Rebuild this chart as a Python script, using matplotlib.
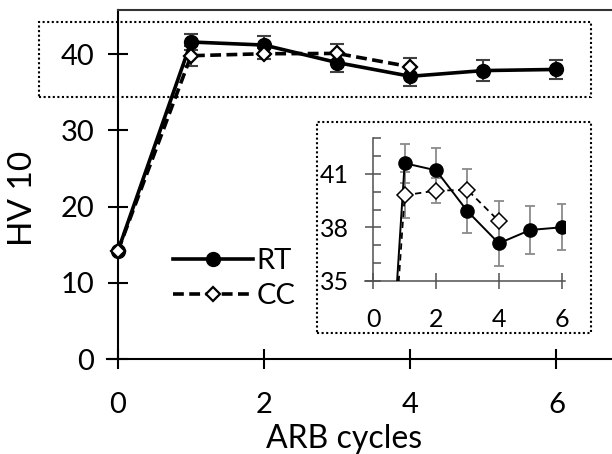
import matplotlib
matplotlib.use("Agg")
import matplotlib.pyplot as plt
from matplotlib.patches import Rectangle
from matplotlib.ticker import FixedLocator

plt.rcParams['font.family'] = ['Lato', 'DejaVu Sans']

# data
cycles_rt = [0, 1, 2, 3, 4, 5, 6]
hv_rt = [14.2, 41.6, 41.2, 38.9, 37.1, 37.85, 38.0]
err_rt = [0.0, 1.1, 1.25, 1.2, 1.3, 1.35, 1.3]

cycles_cc = [0, 1, 2, 3, 4]
hv_cc = [14.2, 39.8, 40.06, 40.1, 38.35]
err_cc = [0.0, 1.3, 0.7, 1.2, 1.1]

main_xticks = [0, 2, 4, 6]
main_yticks = [0, 10, 20, 30, 40]
inset_xticks = [0, 2, 4, 6]
inset_yticks = [35, 38, 41]
inset_yminor = [36, 37, 39, 40, 42, 43]

W, H = 612, 454
fig = plt.figure(figsize=(W / 100, H / 100), dpi=100)


def fbox(x0, y0, x1, y1):
    # pixel box (top-left origin) -> figure fraction [l, b, w, h]
    return [x0 / W, 1 - y1 / H, (x1 - x0) / W, (y1 - y0) / H]


# ---- main axes ----
ax = fig.add_axes(fbox(107, 10, 612, 359))
ax.set_xlim(-0.15, 6.76)
ax.set_ylim(0, 45.8)
ax.spines['left'].set_position(('data', 0))
ax.spines['right'].set_visible(False)
ax.spines['top'].set_bounds(0, 6.76)
for s in ['left', 'bottom', 'top']:
    ax.spines[s].set_linewidth(1.5)
ax.spines['top'].set_color('#333333')

ax.errorbar(cycles_rt, hv_rt, yerr=err_rt, fmt='none', ecolor='#404040',
            elinewidth=1.5, capsize=5, capthick=1.5, zorder=2)
ax.errorbar(cycles_cc, hv_cc, yerr=err_cc, fmt='none', ecolor='#404040',
            elinewidth=1.5, capsize=5, capthick=1.5, zorder=2)
ax.plot(cycles_rt, hv_rt, color='black', lw=2.6, marker='o', ms=10,
        label='RT', zorder=3)
ax.plot(cycles_cc, hv_cc, color='black', lw=2.6, ls=(0, (3, 1.5)),
        marker='D', ms=7, mfc='white', mec='black', mew=1.6,
        label='CC', zorder=4)

ax.xaxis.set_major_locator(FixedLocator(main_xticks))
ax.yaxis.set_major_locator(FixedLocator(main_yticks))
ax.tick_params(axis='both', direction='inout', length=14, width=1.5,
               labelsize=21)
ax.tick_params(axis='y', pad=10)
ax.tick_params(axis='x', pad=17)
ax.set_xlabel('ARB cycles', fontsize=23)
ax.set_ylabel('HV 10', fontsize=24)
ax.xaxis.set_label_coords((344 - 107) / (612 - 107), -0.185)
ax.yaxis.set_label_coords((38 - 107) / (612 - 107), (359 - 198) / 349)

leg = ax.legend(loc='upper left', bbox_to_anchor=(173 / W, 1 - 248 / H),
                bbox_transform=fig.transFigure, frameon=False, fontsize=21,
                handlelength=2.75, handletextpad=0.1, labelspacing=0.3,
                borderpad=0, borderaxespad=0)

# ---- inset ----
axi = fig.add_axes(fbox(364.8, 138.3, 564.8, 280.7))
axi.set_xlim(-0.27, 6.1)
axi.set_ylim(35, 43)
axi.patch.set_alpha(0)
axi.spines['left'].set_position(('data', 0))
axi.spines['right'].set_visible(False)
axi.spines['top'].set_visible(False)
for s in ['left', 'bottom']:
    axi.spines[s].set_linewidth(1.1)
    axi.spines[s].set_color('#505050')

axi.errorbar(cycles_rt, hv_rt, yerr=err_rt, fmt='none', ecolor='#8a8a8a',
             elinewidth=1.3, capsize=3.5, capthick=1.3, zorder=2)
axi.errorbar(cycles_cc, hv_cc, yerr=err_cc, fmt='none', ecolor='#8a8a8a',
             elinewidth=1.3, capsize=3.5, capthick=1.3, zorder=2)
axi.plot(cycles_rt, hv_rt, color='black', lw=1.4, marker='o', ms=9.5,
         zorder=3)
axi.plot(cycles_cc, hv_cc, color='black', lw=1.3, ls=(0, (3.5, 2.5)),
         marker='D', ms=8, mfc='white', mec='black', mew=1.1, zorder=4)

axi.xaxis.set_major_locator(FixedLocator(inset_xticks))
axi.yaxis.set_major_locator(FixedLocator(inset_yticks))
axi.yaxis.set_minor_locator(FixedLocator(inset_yminor))
axi.tick_params(axis='both', which='major', direction='inout', length=11,
                width=1.1, color='#505050', labelsize=18)
axi.tick_params(axis='y', which='minor', direction='in', length=6,
                width=1.1, color='#505050')
axi.tick_params(axis='y', which='major', pad=12)
axi.tick_params(axis='x', which='major', pad=14)

# dotted highlight boxes
for x0, y0, x1, y1 in [(39, 22, 591, 97), (317, 122, 591, 333)]:
    l, b, w, h = fbox(x0, y0, x1, y1)
    fig.add_artist(Rectangle((l, b), w, h, transform=fig.transFigure,
                             fill=False, edgecolor='black', lw=1.5,
                             ls=(0, (1, 1.2)), zorder=10))

fig.savefig('out.png', dpi=100)
